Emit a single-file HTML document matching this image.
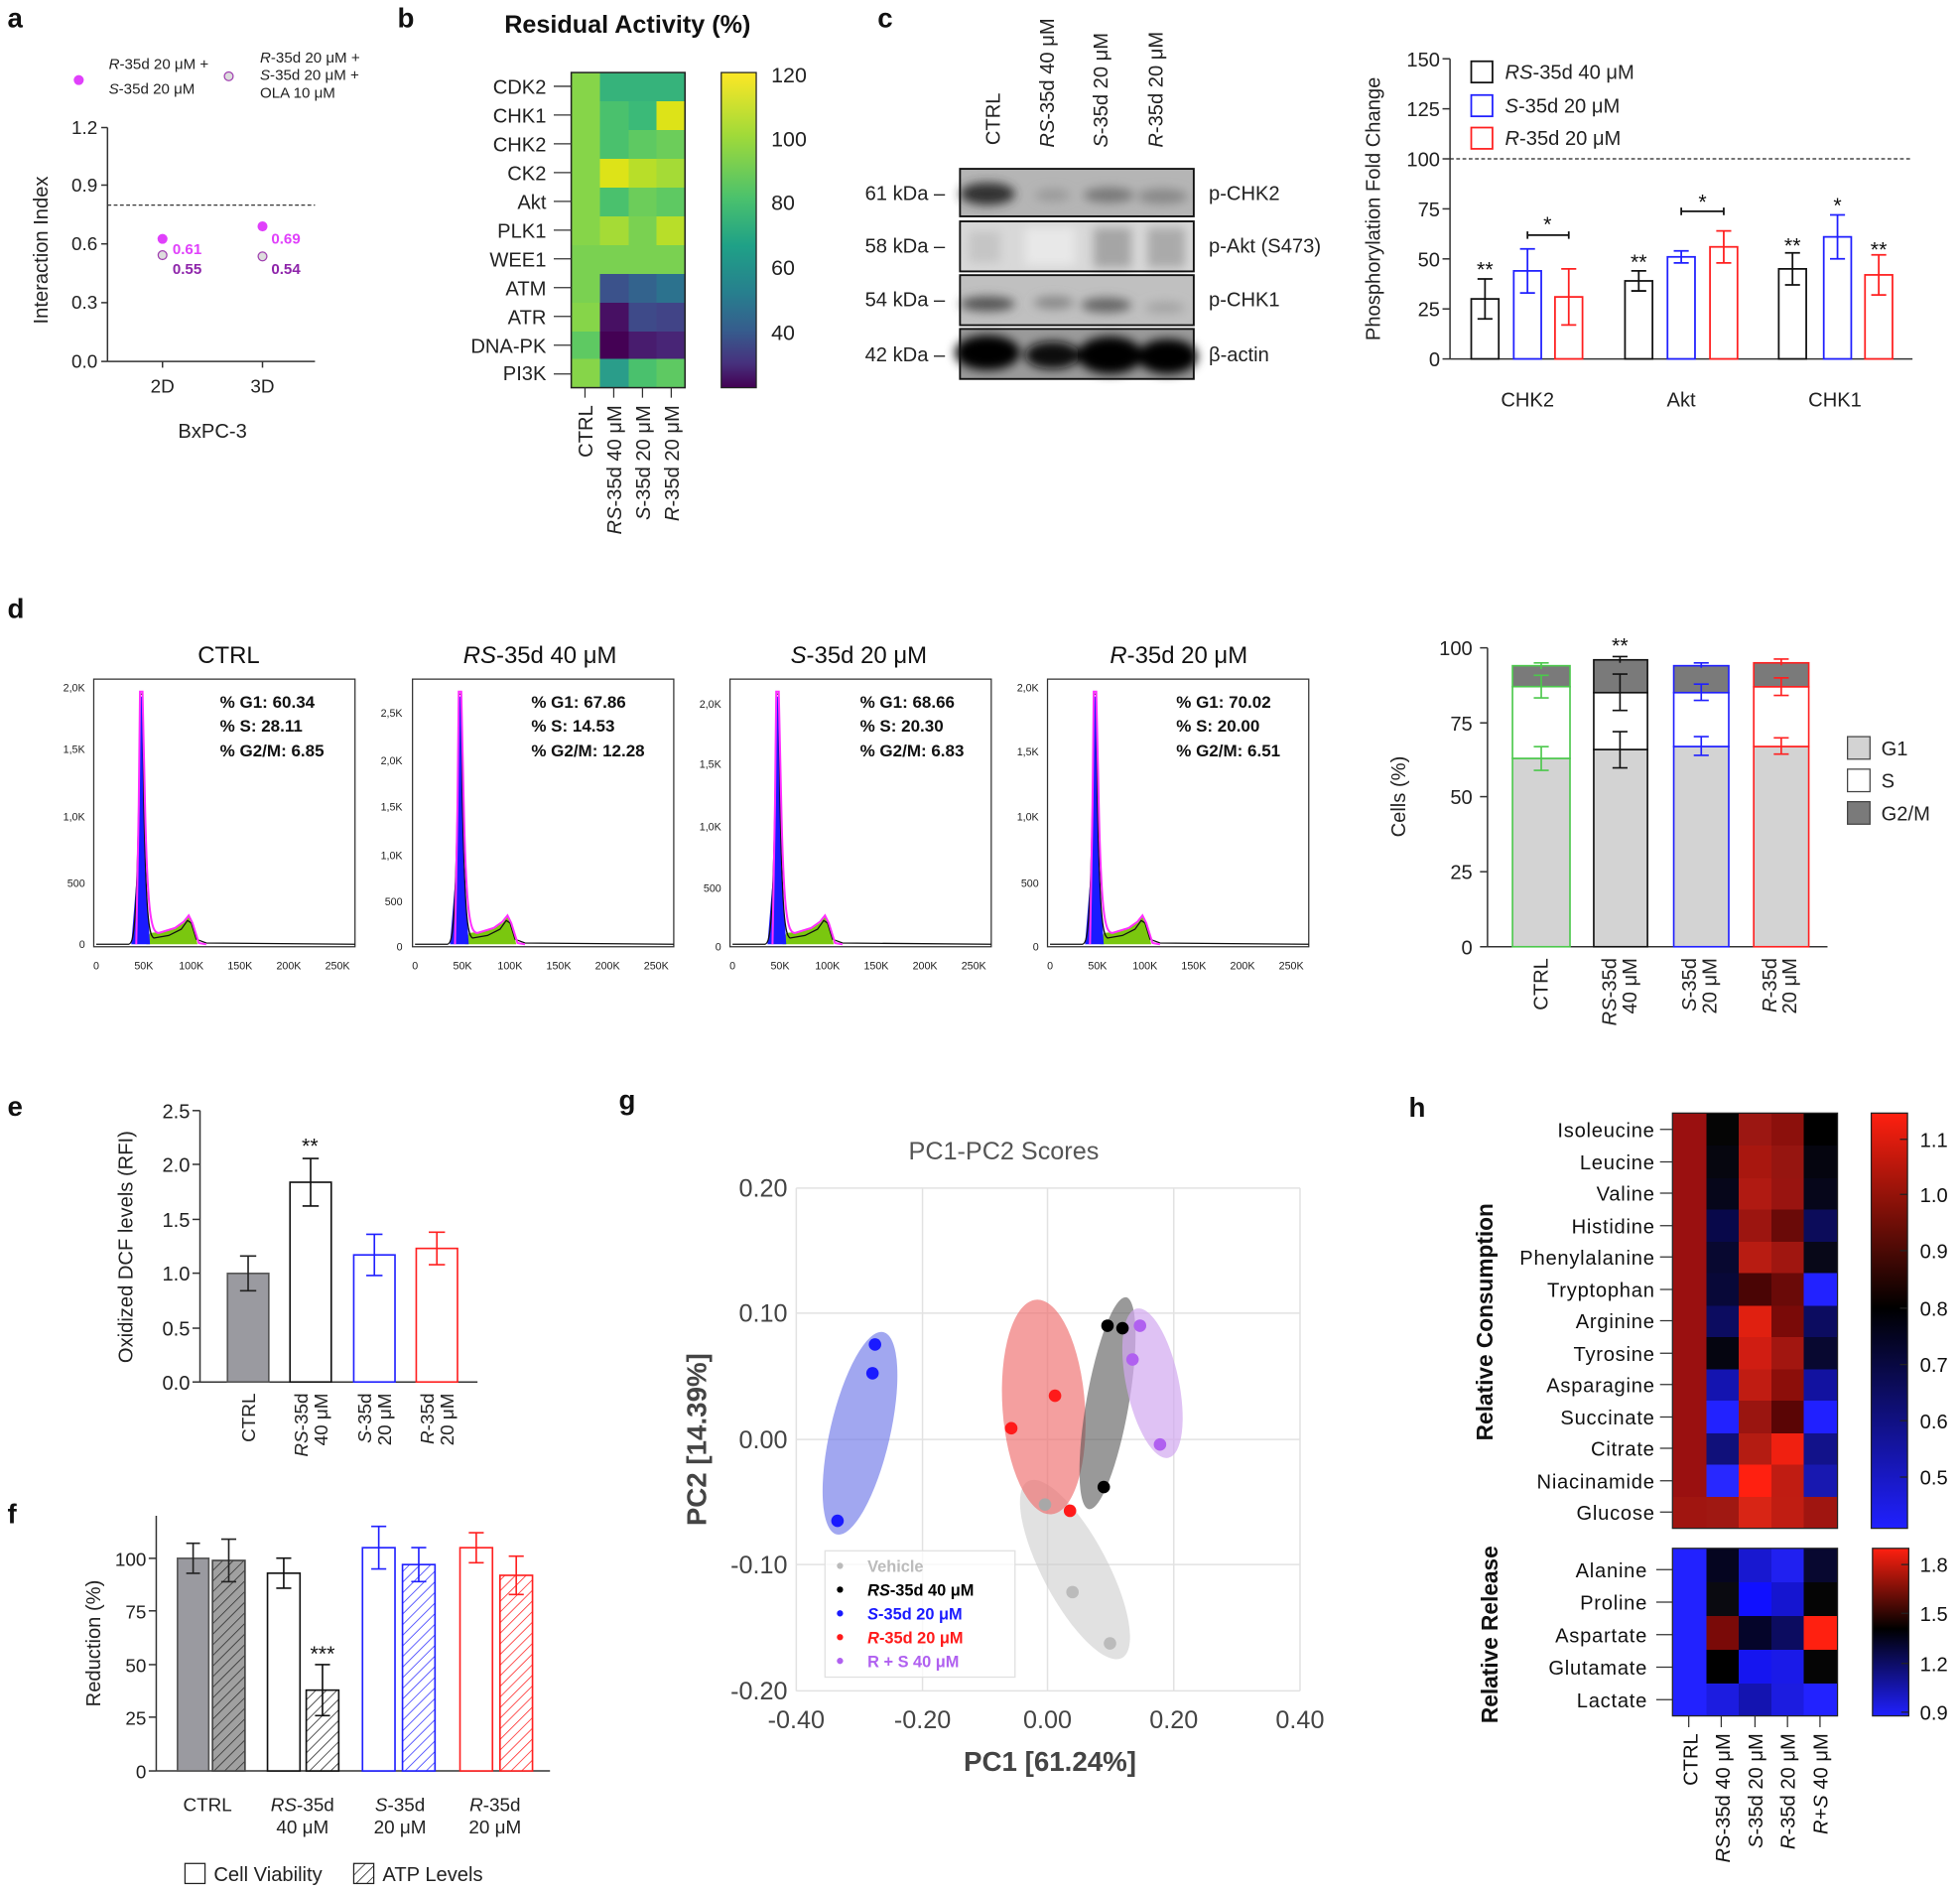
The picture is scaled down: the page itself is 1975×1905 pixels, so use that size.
<!DOCTYPE html>
<html><head><meta charset="utf-8"><style>
html,body{margin:0;padding:0;background:#fff}
svg{display:block}
text{font-family:"Liberation Sans",sans-serif}
.t{font-size:15px;fill:#222}
.s{font-size:11px;fill:#222}
.b{font-weight:bold}
</style></head><body>
<svg width="1975" height="1905" viewBox="0 0 1568 1512" preserveAspectRatio="none" xmlns="http://www.w3.org/2000/svg">
<defs>
<pattern id="hk" width="6" height="6" patternUnits="userSpaceOnUse" patternTransform="rotate(45)"><rect width="6" height="6" fill="#fff"/><line x1="0" y1="0" x2="0" y2="6" stroke="#333" stroke-width="1.3"/></pattern>
<pattern id="hg" width="6" height="6" patternUnits="userSpaceOnUse" patternTransform="rotate(45)"><rect width="6" height="6" fill="#a0a0a0"/><line x1="0" y1="0" x2="0" y2="6" stroke="#333" stroke-width="1.3"/></pattern>
<pattern id="hb" width="6" height="6" patternUnits="userSpaceOnUse" patternTransform="rotate(45)"><rect width="6" height="6" fill="#fff"/><line x1="0" y1="0" x2="0" y2="6" stroke="#4040ff" stroke-width="1.3"/></pattern>
<pattern id="hr" width="6" height="6" patternUnits="userSpaceOnUse" patternTransform="rotate(45)"><rect width="6" height="6" fill="#fff"/><line x1="0" y1="0" x2="0" y2="6" stroke="#ff3030" stroke-width="1.3"/></pattern>
<linearGradient id="vir" x1="0" y1="0" x2="0" y2="1"><stop offset="0" stop-color="#fde725"/><stop offset=".2" stop-color="#a0da39"/><stop offset=".4" stop-color="#4ac16d"/><stop offset=".55" stop-color="#1fa187"/><stop offset=".7" stop-color="#277f8e"/><stop offset=".82" stop-color="#365c8d"/><stop offset=".92" stop-color="#46327e"/><stop offset="1" stop-color="#440154"/></linearGradient>
<linearGradient id="rb1" x1="0" y1="0" x2="0" y2="1"><stop offset="0" stop-color="#ff2010"/><stop offset=".47" stop-color="#000"/><stop offset="1" stop-color="#2020ff"/></linearGradient>
<linearGradient id="rb2" x1="0" y1="0" x2="0" y2="1"><stop offset="0" stop-color="#ff2010"/><stop offset=".48" stop-color="#000"/><stop offset="1" stop-color="#2020ff"/></linearGradient>
<filter id="bl" x="-20%" y="-50%" width="140%" height="200%"><feGaussianBlur stdDeviation="4"/></filter>
<g id="hist">
<rect x="0" y="0" width="209" height="214" fill="none" stroke="#333" stroke-width="1"/>
<path d="M42,212 L45,203 L55,202 L65,199 L72,195 L76,190 L79,196 L83,212 Z" fill="#7ac70f"/>
<path d="M30,212 L35,150 L37,14 L39,14 L41,150 L45,212 Z" fill="#1a1aff"/>
<path d="M2,212 L28,212 C32,211 34,200 36,100 L37,12 L39,12 L40,100 C42,190 44,205 48,207 L60,205 L70,200 L75,193 L78,195 L82,208 L90,211 L209,212" fill="none" stroke="#111" stroke-width="1"/>
<path d="M34,212 L36,100 L37,10 L39,10 L41,100 C43,190 46,203 52,203 L65,199 L72,194 L76,189 L79,195 L84,211 L90,212" fill="none" stroke="#ff30ff" stroke-width="1.6"/>
<g class="s" text-anchor="middle" style="font-size:8.5px">
<text x="2" y="232">0</text><text x="40" y="232">50K</text><text x="78" y="232">100K</text><text x="117" y="232">150K</text><text x="156" y="232">200K</text><text x="195" y="232">250K</text></g>
</g>
</defs>

<g font-weight="bold" font-size="22" fill="#111">
<text x="6" y="22">a</text><text x="318" y="22">b</text><text x="702" y="22">c</text>
<text x="6" y="494">d</text><text x="6" y="892">e</text><text x="6" y="1218">f</text>
<text x="495" y="887">g</text><text x="1127" y="893">h</text></g>

<!-- PANEL A -->
<circle cx="63" cy="64" r="4" fill="#e040fb"/>
<text x="87" y="55" class="s" style="font-size:12px"><tspan font-style="italic">R</tspan>-35d 20 μM +</text>
<text x="87" y="75" class="s" style="font-size:12px"><tspan font-style="italic">S</tspan>-35d 20 μM</text>
<circle cx="183" cy="61" r="3.5" fill="#ddd" stroke="#a040b0"/>
<text x="208" y="50" class="s" style="font-size:12px"><tspan font-style="italic">R</tspan>-35d 20 μM +</text>
<text x="208" y="64" class="s" style="font-size:12px"><tspan font-style="italic">S</tspan>-35d 20 μM +</text>
<text x="208" y="78" class="s" style="font-size:12px">OLA 10 μM</text>
<g stroke="#333" stroke-width="1.2"><line x1="86" y1="102" x2="86" y2="289"/><line x1="86" y1="289" x2="252" y2="289"/>
<line x1="81" y1="102" x2="86" y2="102"/><line x1="81" y1="148" x2="86" y2="148"/><line x1="81" y1="195" x2="86" y2="195"/><line x1="81" y1="242" x2="86" y2="242"/><line x1="81" y1="289" x2="86" y2="289"/>
<line x1="130" y1="289" x2="130" y2="294"/><line x1="210" y1="289" x2="210" y2="294"/></g>
<line x1="86" y1="164" x2="252" y2="164" stroke="#333" stroke-dasharray="3,2"/>
<g class="t" text-anchor="end"><text x="78" y="107">1.2</text><text x="78" y="153">0.9</text><text x="78" y="200">0.6</text><text x="78" y="247">0.3</text><text x="78" y="294">0.0</text></g>
<g class="t" text-anchor="middle"><text x="130" y="314">2D</text><text x="210" y="314">3D</text><text x="170" y="350" style="font-size:16px">BxPC-3</text></g>
<text transform="translate(38,200) rotate(-90)" class="t" text-anchor="middle" style="font-size:16px">Interaction Index</text>
<circle cx="130" cy="191" r="4" fill="#e040fb"/><circle cx="130" cy="204" r="3.5" fill="#ddd" stroke="#a040b0"/>
<circle cx="210" cy="181" r="4" fill="#e040fb"/><circle cx="210" cy="205" r="3.5" fill="#ddd" stroke="#a040b0"/>
<g font-weight="bold" font-size="12"><text x="138" y="203" fill="#e040fb">0.61</text><text x="138" y="219" fill="#8e24aa">0.55</text>
<text x="217" y="195" fill="#e040fb">0.69</text><text x="217" y="219" fill="#8e24aa">0.54</text></g>

<!-- PANEL B -->
<text x="502" y="26" text-anchor="middle" font-weight="bold" font-size="20" fill="#111">Residual Activity (%)</text>
<g>
<rect x="457" y="58" width="91" height="252" fill="#86d549"/>
<g shape-rendering="crispEdges">
<rect x="480" y="58" width="68" height="23" fill="#36b37b"/>
<rect x="480" y="81" width="23" height="23" fill="#4ac16d"/><rect x="503" y="81" width="22" height="23" fill="#3bba78"/><rect x="525" y="81" width="23" height="23" fill="#dde318"/>
<rect x="480" y="104" width="23" height="23" fill="#4ac16d"/><rect x="503" y="104" width="22" height="23" fill="#5ec962"/><rect x="525" y="104" width="23" height="23" fill="#6ccd5a"/>
<rect x="480" y="127" width="23" height="23" fill="#dde318"/><rect x="503" y="127" width="22" height="23" fill="#b8de29"/><rect x="525" y="127" width="23" height="23" fill="#a5db36"/>
<rect x="480" y="150" width="23" height="23" fill="#4ac16d"/><rect x="503" y="150" width="22" height="23" fill="#6ccd5a"/><rect x="525" y="150" width="23" height="23" fill="#5ec962"/>
<rect x="480" y="173" width="23" height="23" fill="#a5db36"/><rect x="503" y="173" width="22" height="23" fill="#7ad151"/><rect x="525" y="173" width="23" height="23" fill="#b8de29"/>
<rect x="457" y="196" width="91" height="23" fill="#7ad151"/>
<rect x="457" y="219" width="23" height="23" fill="#7ad151"/><rect x="480" y="219" width="23" height="23" fill="#3b528b"/><rect x="503" y="219" width="22" height="23" fill="#33638d"/><rect x="525" y="219" width="23" height="23" fill="#2c728e"/>
<rect x="480" y="242" width="23" height="23" fill="#471063"/><rect x="503" y="242" width="22" height="23" fill="#3e4a89"/><rect x="525" y="242" width="23" height="23" fill="#414487"/>
<rect x="457" y="265" width="23" height="22" fill="#5ec962"/><rect x="480" y="265" width="23" height="22" fill="#440154"/><rect x="503" y="265" width="22" height="22" fill="#481c6e"/><rect x="525" y="265" width="23" height="22" fill="#482576"/>
<rect x="480" y="287" width="23" height="23" fill="#2a9d8a"/><rect x="503" y="287" width="22" height="23" fill="#4ac16d"/><rect x="525" y="287" width="23" height="23" fill="#5ec962"/>
</g>
<rect x="457" y="58" width="91" height="252" fill="none" stroke="#222" stroke-width="1.2"/>
</g>
<g class="t" text-anchor="end" style="font-size:16px">
<text x="437" y="75">CDK2</text><text x="437" y="98">CHK1</text><text x="437" y="121">CHK2</text><text x="437" y="144">CK2</text><text x="437" y="167">Akt</text><text x="437" y="190">PLK1</text><text x="437" y="213">WEE1</text><text x="437" y="236">ATM</text><text x="437" y="259">ATR</text><text x="437" y="282">DNA-PK</text><text x="437" y="304">PI3K</text></g>
<g stroke="#333"><line x1="443" y1="69" x2="457" y2="69"/><line x1="443" y1="92" x2="457" y2="92"/><line x1="443" y1="115" x2="457" y2="115"/><line x1="443" y1="138" x2="457" y2="138"/><line x1="443" y1="161" x2="457" y2="161"/><line x1="443" y1="184" x2="457" y2="184"/><line x1="443" y1="207" x2="457" y2="207"/><line x1="443" y1="230" x2="457" y2="230"/><line x1="443" y1="253" x2="457" y2="253"/><line x1="443" y1="276" x2="457" y2="276"/><line x1="443" y1="299" x2="457" y2="299"/>
<line x1="468" y1="310" x2="468" y2="318"/><line x1="491" y1="310" x2="491" y2="318"/><line x1="514" y1="310" x2="514" y2="318"/><line x1="537" y1="310" x2="537" y2="318"/></g>
<g class="t" text-anchor="end" style="font-size:16px">
<text transform="translate(474,324) rotate(-90)">CTRL</text>
<text transform="translate(497,324) rotate(-90)"><tspan font-style="italic">RS</tspan>-35d 40 μM</text>
<text transform="translate(520,324) rotate(-90)"><tspan font-style="italic">S</tspan>-35d 20 μM</text>
<text transform="translate(543,324) rotate(-90)"><tspan font-style="italic">R</tspan>-35d 20 μM</text></g>
<rect x="577" y="58" width="28" height="252" fill="url(#vir)" stroke="#222"/>
<g class="t" style="font-size:17px"><text x="617" y="66">120</text><text x="617" y="117">100</text><text x="617" y="168">80</text><text x="617" y="220">60</text><text x="617" y="272">40</text></g>

<!-- PANEL C blot -->
<g class="t" style="font-size:16px">
<text transform="translate(800,116) rotate(-90)">CTRL</text>
<text transform="translate(843,118) rotate(-90)"><tspan font-style="italic">RS</tspan>-35d 40 μM</text>
<text transform="translate(886,118) rotate(-90)"><tspan font-style="italic">S</tspan>-35d 20 μM</text>
<text transform="translate(930,118) rotate(-90)"><tspan font-style="italic">R</tspan>-35d 20 μM</text></g>
<rect x="768" y="135" width="187" height="38" fill="#b5b5b5"/>
<rect x="768" y="177" width="187" height="40" fill="#d8d8d8"/>
<rect x="768" y="220" width="187" height="40" fill="#c0c0c0"/>
<rect x="768" y="263" width="187" height="40" fill="#9a9a9a"/>
<g filter="url(#bl)">
<ellipse cx="790" cy="155" rx="22" ry="9" fill="#333"/><ellipse cx="842" cy="156" rx="14" ry="5" fill="#9a9a9a"/><ellipse cx="887" cy="156" rx="20" ry="6" fill="#777"/><ellipse cx="930" cy="157" rx="20" ry="6" fill="#888"/>
<rect x="875" y="182" width="30" height="32" fill="#a5a5a5"/><rect x="918" y="182" width="30" height="32" fill="#aaa"/><rect x="775" y="185" width="25" height="25" fill="#c5c5c5"/><rect x="820" y="182" width="40" height="30" fill="#e8e8e8"/>
<ellipse cx="790" cy="243" rx="22" ry="6" fill="#555"/><ellipse cx="843" cy="242" rx="16" ry="5" fill="#888"/><ellipse cx="885" cy="244" rx="20" ry="6" fill="#666"/><ellipse cx="932" cy="246" rx="16" ry="5" fill="#a5a5a5"/>
<ellipse cx="790" cy="282" rx="26" ry="14" fill="#000"/><ellipse cx="842" cy="284" rx="22" ry="11" fill="#111"/><ellipse cx="888" cy="284" rx="26" ry="15" fill="#000"/><ellipse cx="934" cy="285" rx="24" ry="14" fill="#000"/>
</g>
<g fill="none" stroke="#111" stroke-width="1.5"><rect x="768" y="135" width="187" height="38"/><rect x="768" y="177" width="187" height="40"/><rect x="768" y="220" width="187" height="40"/><rect x="768" y="263" width="187" height="40"/></g>
<g class="t" text-anchor="end" style="font-size:16px"><text x="756" y="160">61 kDa –</text><text x="756" y="202">58 kDa –</text><text x="756" y="245">54 kDa –</text><text x="756" y="289">42 kDa –</text></g>
<g class="t" style="font-size:16px"><text x="967" y="160">p-CHK2</text><text x="967" y="202">p-Akt (S473)</text><text x="967" y="245">p-CHK1</text><text x="967" y="289">β-actin</text></g>

<!-- PANEL C bar -->
<g stroke="#333" stroke-width="1.2"><line x1="1160" y1="47" x2="1160" y2="287"/><line x1="1160" y1="287" x2="1530" y2="287"/>
<line x1="1154" y1="47" x2="1160" y2="47"/><line x1="1154" y1="87" x2="1160" y2="87"/><line x1="1154" y1="127" x2="1160" y2="127"/><line x1="1154" y1="167" x2="1160" y2="167"/><line x1="1154" y1="207" x2="1160" y2="207"/><line x1="1154" y1="247" x2="1160" y2="247"/><line x1="1154" y1="287" x2="1160" y2="287"/></g>
<line x1="1160" y1="127" x2="1530" y2="127" stroke="#222" stroke-dasharray="3,2"/>
<g class="t" text-anchor="end" style="font-size:16px"><text x="1152" y="53">150</text><text x="1152" y="93">125</text><text x="1152" y="133">100</text><text x="1152" y="173">75</text><text x="1152" y="213">50</text><text x="1152" y="253">25</text><text x="1152" y="293">0</text></g>
<text transform="translate(1104,167) rotate(-90)" class="t" text-anchor="middle" style="font-size:16px">Phosphorylation Fold Change</text>
<g fill="none" stroke-width="1.4">
<g stroke="#111"><rect x="1177" y="239" width="22" height="48"/><path d="M1188,223V255M1182,223H1194M1182,255H1194"/>
<rect x="1300" y="224.6" width="22" height="62.4"/><path d="M1311,216.6V232.6M1305,216.6H1317M1305,232.6H1317"/>
<rect x="1423" y="215" width="22" height="72"/><path d="M1434,202.2V227.8M1428,202.2H1440M1428,227.8H1440"/></g>
<g stroke="#2020ff"><rect x="1211" y="216.6" width="22" height="70.4"/><path d="M1222,199V234.2M1216,199H1228M1216,234.2H1228"/>
<rect x="1334" y="205.4" width="22" height="81.6"/><path d="M1345,200.6V210.2M1339,200.6H1351M1339,210.2H1351"/>
<rect x="1459" y="189.4" width="22" height="97.6"/><path d="M1470,171.8V207M1464,171.8H1476M1464,207H1476"/></g>
<g stroke="#ff2020"><rect x="1244" y="237.4" width="22" height="49.6"/><path d="M1255,215V259.8M1249,215H1261M1249,259.8H1261"/>
<rect x="1368" y="197.4" width="22" height="89.6"/><path d="M1379,184.6V210.2M1373,184.6H1385M1373,210.2H1385"/>
<rect x="1492" y="219.8" width="22" height="67.2"/><path d="M1503,203.8V235.8M1497,203.8H1509M1497,235.8H1509"/></g>
<path d="M1222,185V191M1222,188H1255M1255,185V191M1345,166V172M1345,169H1379M1379,166V172" stroke="#111"/>
</g>
<g font-size="17" fill="#111" text-anchor="middle"><text x="1188" y="221">**</text><text x="1311" y="215">**</text><text x="1434" y="202">**</text><text x="1238" y="185">*</text><text x="1362" y="167">*</text><text x="1470" y="170">*</text><text x="1503" y="205">**</text></g>
<g fill="#fff" stroke-width="1.4"><rect x="1177" y="49" width="17" height="17" stroke="#111"/><rect x="1177" y="76" width="17" height="17" stroke="#2020ff"/><rect x="1177" y="102" width="17" height="17" stroke="#ff2020"/></g>
<g class="t" style="font-size:16px"><text x="1204" y="63"><tspan font-style="italic">RS</tspan>-35d 40 μM</text><text x="1204" y="90"><tspan font-style="italic">S</tspan>-35d 20 μM</text><text x="1204" y="116"><tspan font-style="italic">R</tspan>-35d 20 μM</text></g>
<g class="t" text-anchor="middle" style="font-size:16px"><text x="1222" y="325">CHK2</text><text x="1345" y="325">Akt</text><text x="1468" y="325">CHK1</text></g>

<!-- PANEL D histograms -->
<g font-size="19" fill="#111" text-anchor="middle"><text x="183" y="530">CTRL</text><text x="432" y="530"><tspan font-style="italic">RS</tspan>-35d 40 μM</text><text x="687" y="530"><tspan font-style="italic">S</tspan>-35d 20 μM</text><text x="943" y="530"><tspan font-style="italic">R</tspan>-35d 20 μM</text></g>
<use href="#hist" x="75" y="543"/><use href="#hist" x="330" y="543"/><use href="#hist" x="584" y="543"/><use href="#hist" x="838" y="543"/>
<g font-size="8.5" fill="#222" text-anchor="end">
<text x="68" y="553">2,0K</text><text x="68" y="602">1,5K</text><text x="68" y="656">1,0K</text><text x="68" y="709">500</text><text x="68" y="758">0</text>
<text x="322" y="573">2,5K</text><text x="322" y="611">2,0K</text><text x="322" y="648">1,5K</text><text x="322" y="687">1,0K</text><text x="322" y="724">500</text><text x="322" y="760">0</text>
<text x="577" y="566">2,0K</text><text x="577" y="614">1,5K</text><text x="577" y="664">1,0K</text><text x="577" y="713">500</text><text x="577" y="760">0</text>
<text x="831" y="553">2,0K</text><text x="831" y="604">1,5K</text><text x="831" y="656">1,0K</text><text x="831" y="709">500</text><text x="831" y="760">0</text></g>
<g font-size="13.5" font-weight="bold" fill="#111">
<text x="176" y="566">% G1: 60.34</text><text x="176" y="585">% S: 28.11</text><text x="176" y="605">% G2/M: 6.85</text>
<text x="425" y="566">% G1: 67.86</text><text x="425" y="585">% S: 14.53</text><text x="425" y="605">% G2/M: 12.28</text>
<text x="688" y="566">% G1: 68.66</text><text x="688" y="585">% S: 20.30</text><text x="688" y="605">% G2/M: 6.83</text>
<text x="941" y="566">% G1: 70.02</text><text x="941" y="585">% S: 20.00</text><text x="941" y="605">% G2/M: 6.51</text></g>

<!-- PANEL D stacked -->
<g stroke="#333" stroke-width="1.2"><line x1="1190" y1="518" x2="1190" y2="757"/><line x1="1190" y1="757" x2="1462" y2="757"/>
<line x1="1184" y1="518" x2="1190" y2="518"/><line x1="1184" y1="578" x2="1190" y2="578"/><line x1="1184" y1="637" x2="1190" y2="637"/><line x1="1184" y1="697" x2="1190" y2="697"/><line x1="1184" y1="757" x2="1190" y2="757"/></g>
<g class="t" text-anchor="end" style="font-size:16px"><text x="1178" y="524">100</text><text x="1178" y="584">75</text><text x="1178" y="643">50</text><text x="1178" y="703">25</text><text x="1178" y="763">0</text></g>
<text transform="translate(1124,637) rotate(-90)" class="t" text-anchor="middle" style="font-size:16px">Cells (%)</text>
<g stroke-width="1.3">
<g stroke="#4cc84c"><rect x="1210" y="606.4" width="46" height="150.6" fill="#d3d3d3"/><rect x="1210" y="549" width="46" height="57.4" fill="#fff"/><rect x="1210" y="532.3" width="46" height="16.7" fill="#7a7a7a"/>
<path d="M1233,597V616M1227,597H1239M1227,616H1239M1233,540V558M1227,540H1239M1227,558H1239M1233,530V535M1227,530H1239" fill="none"/></g>
<g stroke="#111"><rect x="1275" y="599.3" width="43" height="157.7" fill="#d3d3d3"/><rect x="1275" y="553.8" width="43" height="45.5" fill="#fff"/><rect x="1275" y="527.6" width="43" height="26.2" fill="#7a7a7a"/>
<path d="M1296,585V614M1290,585H1302M1290,614H1302M1296,539V568M1290,539H1302M1290,568H1302M1296,525V530M1290,525H1302" fill="none"/></g>
<g stroke="#2020ff"><rect x="1339" y="596.9" width="44" height="160.1" fill="#d3d3d3"/><rect x="1339" y="553.8" width="44" height="43.1" fill="#fff"/><rect x="1339" y="532.3" width="44" height="21.5" fill="#7a7a7a"/>
<path d="M1361,589V604M1355,589H1367M1355,604H1367M1361,547V560M1355,547H1367M1355,560H1367M1361,530V534M1355,530H1367" fill="none"/></g>
<g stroke="#ff2020"><rect x="1403" y="596.9" width="44" height="160.1" fill="#d3d3d3"/><rect x="1403" y="549.1" width="44" height="47.8" fill="#fff"/><rect x="1403" y="530" width="44" height="19.1" fill="#7a7a7a"/>
<path d="M1425,590V603M1419,590H1431M1419,603H1431M1425,542V556M1419,542H1431M1419,556H1431M1425,527V532M1419,527H1431" fill="none"/></g>
</g>
<text x="1296" y="522" font-size="17" text-anchor="middle" fill="#111">**</text>
<g stroke="#444"><rect x="1478" y="589" width="18" height="18" fill="#d3d3d3"/><rect x="1478" y="615" width="18" height="18" fill="#fff"/><rect x="1478" y="641" width="18" height="18" fill="#7a7a7a"/></g>
<g class="t" style="font-size:16px"><text x="1505" y="604">G1</text><text x="1505" y="630">S</text><text x="1505" y="656">G2/M</text></g>
<g class="t" text-anchor="end" style="font-size:16px">
<text transform="translate(1238,766) rotate(-90)">CTRL</text>
<text transform="translate(1293,766) rotate(-90)"><tspan font-style="italic">RS</tspan>-35d</text><text transform="translate(1309,766) rotate(-90)">40 μM</text>
<text transform="translate(1357,766) rotate(-90)"><tspan font-style="italic">S</tspan>-35d</text><text transform="translate(1373,766) rotate(-90)">20 μM</text>
<text transform="translate(1421,766) rotate(-90)"><tspan font-style="italic">R</tspan>-35d</text><text transform="translate(1437,766) rotate(-90)">20 μM</text></g>

<!-- PANEL E -->
<g stroke="#333" stroke-width="1.2"><line x1="160" y1="888" x2="160" y2="1105"/><line x1="160" y1="1105" x2="382" y2="1105"/>
<line x1="154" y1="888" x2="160" y2="888"/><line x1="154" y1="931" x2="160" y2="931"/><line x1="154" y1="975" x2="160" y2="975"/><line x1="154" y1="1018" x2="160" y2="1018"/><line x1="154" y1="1062" x2="160" y2="1062"/><line x1="154" y1="1105" x2="160" y2="1105"/></g>
<g class="t" text-anchor="end" style="font-size:16px"><text x="152" y="894">2.5</text><text x="152" y="937">2.0</text><text x="152" y="981">1.5</text><text x="152" y="1024">1.0</text><text x="152" y="1068">0.5</text><text x="152" y="1111">0.0</text></g>
<text transform="translate(106,997) rotate(-90)" class="t" text-anchor="middle" style="font-size:16px">Oxidized DCF levels (RFI)</text>
<g stroke-width="1.3">
<rect x="182" y="1018.2" width="33" height="86.8" fill="#9a9aa0" stroke="#555"/><path d="M198.5,1004.3V1032.1M192,1004.3H205M192,1032.1H205" stroke="#222" fill="none"/>
<rect x="232" y="945.3" width="33" height="159.7" fill="#fff" stroke="#111"/><path d="M248.5,926.3V964.3M242,926.3H255M242,964.3H255" stroke="#111" fill="none"/>
<rect x="283" y="1003.4" width="33" height="101.6" fill="#fff" stroke="#2020ff"/><path d="M299.5,986.9V1019.9M293,986.9H306M293,1019.9H306" stroke="#2020ff" fill="none"/>
<rect x="333" y="998.2" width="33" height="106.8" fill="#fff" stroke="#ff2020"/><path d="M349.5,985.2V1011.2M343,985.2H356M343,1011.2H356" stroke="#ff2020" fill="none"/></g>
<text x="248" y="922" font-size="17" text-anchor="middle" fill="#111">**</text>
<g class="t" text-anchor="end" style="font-size:15px">
<text transform="translate(204,1114) rotate(-90)">CTRL</text>
<text transform="translate(246,1114) rotate(-90)"><tspan font-style="italic">RS</tspan>-35d</text><text transform="translate(262,1114) rotate(-90)">40 μM</text>
<text transform="translate(297,1114) rotate(-90)"><tspan font-style="italic">S</tspan>-35d</text><text transform="translate(313,1114) rotate(-90)">20 μM</text>
<text transform="translate(347,1114) rotate(-90)"><tspan font-style="italic">R</tspan>-35d</text><text transform="translate(363,1114) rotate(-90)">20 μM</text></g>

<!-- PANEL F -->
<g stroke="#333" stroke-width="1.2"><line x1="125" y1="1212" x2="125" y2="1416"/><line x1="125" y1="1416" x2="440" y2="1416"/>
<line x1="119" y1="1246" x2="125" y2="1246"/><line x1="119" y1="1288" x2="125" y2="1288"/><line x1="119" y1="1331" x2="125" y2="1331"/><line x1="119" y1="1373" x2="125" y2="1373"/><line x1="119" y1="1416" x2="125" y2="1416"/></g>
<g class="t" text-anchor="end" style="font-size:15px"><text x="117" y="1252">100</text><text x="117" y="1294">75</text><text x="117" y="1337">50</text><text x="117" y="1379">25</text><text x="117" y="1422">0</text></g>
<text transform="translate(80,1314) rotate(-90)" class="t" text-anchor="middle" style="font-size:16px">Reduction (%)</text>
<g stroke-width="1.3" fill="none">
<rect x="142" y="1246" width="25" height="170" fill="#9a9aa0" stroke="#555"/><path d="M154.5,1234V1258M149,1234H160M149,1258H160" stroke="#222"/>
<rect x="170" y="1247.7" width="26" height="168.3" fill="url(#hg)" stroke="#444"/><path d="M183,1230.7V1264.7M177,1230.7H189M177,1264.7H189" stroke="#222"/>
<rect x="214" y="1257.9" width="26" height="158.1" fill="#fff" stroke="#111"/><path d="M227,1245.9V1269.9M221,1245.9H233M221,1269.9H233" stroke="#111"/>
<rect x="245" y="1351.4" width="26" height="64.6" fill="url(#hk)" stroke="#111"/><path d="M258,1331V1371.8M252,1331H264M252,1371.8H264" stroke="#111"/>
<rect x="290" y="1237.5" width="26" height="178.5" fill="#fff" stroke="#2020ff"/><path d="M303,1220.5V1254.5M297,1220.5H309M297,1254.5H309" stroke="#2020ff"/>
<rect x="322" y="1251" width="26" height="165" fill="url(#hb)" stroke="#2020ff"/><path d="M335,1237.4V1264.6M329,1237.4H341M329,1264.6H341" stroke="#2020ff"/>
<rect x="368" y="1237.5" width="26" height="178.5" fill="#fff" stroke="#ff2020"/><path d="M381,1225.5V1249.5M375,1225.5H387M375,1249.5H387" stroke="#ff2020"/>
<rect x="400" y="1259.6" width="26" height="156.4" fill="url(#hr)" stroke="#ff2020"/><path d="M413,1244.3V1274.9M407,1244.3H419M407,1274.9H419" stroke="#ff2020"/></g>
<text x="258" y="1328" font-size="17" text-anchor="middle" fill="#111">***</text>
<g class="t" text-anchor="middle" style="font-size:15px"><text x="166" y="1448">CTRL</text>
<text x="242" y="1448"><tspan font-style="italic">RS</tspan>-35d</text><text x="242" y="1466">40 μM</text>
<text x="320" y="1448"><tspan font-style="italic">S</tspan>-35d</text><text x="320" y="1466">20 μM</text>
<text x="396" y="1448"><tspan font-style="italic">R</tspan>-35d</text><text x="396" y="1466">20 μM</text></g>
<rect x="148" y="1490" width="16" height="16" fill="#fff" stroke="#222"/><rect x="283" y="1490" width="16" height="16" fill="url(#hk)" stroke="#222"/>
<g class="t" style="font-size:16px"><text x="171" y="1504">Cell Viability</text><text x="306" y="1504">ATP Levels</text></g>

<!-- PANEL G -->
<text x="803" y="927" text-anchor="middle" font-size="20" fill="#555">PC1-PC2 Scores</text>
<g stroke="#e2e2e2" stroke-width="1.2">
<line x1="637" y1="950" x2="1040" y2="950"/><line x1="637" y1="1050" x2="1040" y2="1050"/><line x1="637" y1="1151" x2="1040" y2="1151"/><line x1="637" y1="1251" x2="1040" y2="1251"/><line x1="637" y1="1352" x2="1040" y2="1352"/>
<line x1="637" y1="950" x2="637" y2="1352"/><line x1="738" y1="950" x2="738" y2="1352"/><line x1="838" y1="950" x2="838" y2="1352"/><line x1="939" y1="950" x2="939" y2="1352"/><line x1="1040" y1="950" x2="1040" y2="1352"/></g>
<g font-size="20" fill="#444" text-anchor="end"><text x="630" y="957">0.20</text><text x="630" y="1057">0.10</text><text x="630" y="1158">0.00</text><text x="630" y="1258">-0.10</text><text x="630" y="1359">-0.20</text></g>
<g font-size="20" fill="#444" text-anchor="middle"><text x="637" y="1382">-0.40</text><text x="738" y="1382">-0.20</text><text x="838" y="1382">0.00</text><text x="939" y="1382">0.20</text><text x="1040" y="1382">0.40</text></g>
<text x="840" y="1416" text-anchor="middle" font-size="22" font-weight="bold" fill="#444">PC1 [61.24%]</text>
<text transform="translate(565,1151) rotate(-90)" text-anchor="middle" font-size="22" font-weight="bold" fill="#444">PC2 [14.39%]</text>
<ellipse cx="688" cy="1146" rx="24" ry="83" transform="rotate(13 688 1146)" fill="#6f78e8" opacity=".65"/>
<ellipse cx="860" cy="1255" rx="26" ry="80" transform="rotate(-28 860 1255)" fill="#c8c8c8" opacity=".55"/>
<ellipse cx="835" cy="1125" rx="33" ry="86" transform="rotate(-4 835 1125)" fill="#ee6b6b" opacity=".65"/>
<ellipse cx="886" cy="1122" rx="17" ry="86" transform="rotate(10 886 1122)" fill="#555" opacity=".6"/>
<ellipse cx="922" cy="1106" rx="21" ry="61" transform="rotate(-12 922 1106)" fill="#d2a8f0" opacity=".7"/>
<g><circle cx="700" cy="1075" r="5" fill="#1a1aff"/><circle cx="698" cy="1098" r="5" fill="#1a1aff"/><circle cx="670" cy="1216" r="5" fill="#1a1aff"/>
<circle cx="886" cy="1060" r="5" fill="#000"/><circle cx="898" cy="1062" r="5" fill="#000"/><circle cx="883" cy="1189" r="5" fill="#000"/>
<circle cx="912" cy="1060" r="5" fill="#b060f0"/><circle cx="906" cy="1087" r="5" fill="#b060f0"/><circle cx="928" cy="1155" r="5" fill="#b060f0"/>
<circle cx="844" cy="1116" r="5" fill="#ff1a1a"/><circle cx="809" cy="1142" r="5" fill="#ff1a1a"/><circle cx="856" cy="1208" r="5" fill="#ff1a1a"/>
<circle cx="836" cy="1203" r="5" fill="#a8a8a8"/><circle cx="858" cy="1273" r="5" fill="#bbb"/><circle cx="888" cy="1314" r="5" fill="#bbb"/></g>
<rect x="660" y="1240" width="152" height="101" fill="#fff" fill-opacity=".75" stroke="#e0e0e0"/>
<g font-size="13" font-weight="bold"><circle cx="672" cy="1252" r="2.5" fill="#bbb"/><text x="694" y="1257" fill="#bbb">Vehicle</text>
<circle cx="672" cy="1271" r="2.5" fill="#000"/><text x="694" y="1276" fill="#000"><tspan font-style="italic">RS</tspan>-35d 40 μM</text>
<circle cx="672" cy="1290" r="2.5" fill="#1a1aff"/><text x="694" y="1295" fill="#1a1aff"><tspan font-style="italic">S</tspan>-35d 20 μM</text>
<circle cx="672" cy="1309" r="2.5" fill="#ff1a1a"/><text x="694" y="1314" fill="#ff1a1a"><tspan font-style="italic">R</tspan>-35d 20 μM</text>
<circle cx="672" cy="1328" r="2.5" fill="#b060f0"/><text x="694" y="1333" fill="#b060f0">R + S 40 μM</text></g>

<!-- PANEL H -->
<g shape-rendering="crispEdges">
<rect x="1338" y="890" width="27" height="332" fill="#9a1010"/>
<rect x="1365" y="890" width="26" height="26" fill="#050505"/><rect x="1391" y="890" width="26" height="26" fill="#9c1712"/><rect x="1417" y="890" width="26" height="26" fill="#8c100c"/><rect x="1443" y="890" width="27" height="26" fill="#000"/>
<rect x="1365" y="916" width="26" height="26" fill="#06060f"/><rect x="1391" y="916" width="26" height="26" fill="#a8170f"/><rect x="1417" y="916" width="26" height="26" fill="#961510"/><rect x="1443" y="916" width="27" height="26" fill="#05050f"/>
<rect x="1365" y="942" width="26" height="25" fill="#06061a"/><rect x="1391" y="942" width="26" height="25" fill="#b01a12"/><rect x="1417" y="942" width="26" height="25" fill="#991410"/><rect x="1443" y="942" width="27" height="25" fill="#06061a"/>
<rect x="1365" y="967" width="26" height="26" fill="#08084a"/><rect x="1391" y="967" width="26" height="26" fill="#9c1510"/><rect x="1417" y="967" width="26" height="26" fill="#6a0a08"/><rect x="1443" y="967" width="27" height="26" fill="#0c0c5a"/>
<rect x="1365" y="993" width="26" height="25" fill="#080830"/><rect x="1391" y="993" width="26" height="25" fill="#b81c12"/><rect x="1417" y="993" width="26" height="25" fill="#a01610"/><rect x="1443" y="993" width="27" height="25" fill="#080818"/>
<rect x="1365" y="1018" width="26" height="26" fill="#080838"/><rect x="1391" y="1018" width="26" height="26" fill="#4a0505"/><rect x="1417" y="1018" width="26" height="26" fill="#6a0a08"/><rect x="1443" y="1018" width="27" height="26" fill="#2222ff"/>
<rect x="1365" y="1044" width="26" height="25" fill="#0c0c60"/><rect x="1391" y="1044" width="26" height="25" fill="#e02010"/><rect x="1417" y="1044" width="26" height="25" fill="#7a0a08"/><rect x="1443" y="1044" width="27" height="25" fill="#0c0c60"/>
<rect x="1365" y="1069" width="26" height="26" fill="#050510"/><rect x="1391" y="1069" width="26" height="26" fill="#d01d12"/><rect x="1417" y="1069" width="26" height="26" fill="#a21610"/><rect x="1443" y="1069" width="27" height="26" fill="#080830"/>
<rect x="1365" y="1095" width="26" height="25" fill="#1414b0"/><rect x="1391" y="1095" width="26" height="25" fill="#c01c12"/><rect x="1417" y="1095" width="26" height="25" fill="#8c0e0a"/><rect x="1443" y="1095" width="27" height="25" fill="#1212a0"/>
<rect x="1365" y="1120" width="26" height="26" fill="#2222ff"/><rect x="1391" y="1120" width="26" height="26" fill="#9a1510"/><rect x="1417" y="1120" width="26" height="26" fill="#5a0505"/><rect x="1443" y="1120" width="27" height="26" fill="#2020ff"/>
<rect x="1365" y="1146" width="26" height="25" fill="#10107a"/><rect x="1391" y="1146" width="26" height="25" fill="#b41c12"/><rect x="1417" y="1146" width="26" height="25" fill="#f02010"/><rect x="1443" y="1146" width="27" height="25" fill="#12128a"/>
<rect x="1365" y="1171" width="26" height="26" fill="#2828ff"/><rect x="1391" y="1171" width="26" height="26" fill="#ff2010"/><rect x="1417" y="1171" width="26" height="26" fill="#c01c12"/><rect x="1443" y="1171" width="27" height="26" fill="#1818b0"/>
<rect x="1338" y="1197" width="27" height="25" fill="#a01510"/><rect x="1365" y="1197" width="26" height="25" fill="#a01812"/><rect x="1391" y="1197" width="26" height="25" fill="#d82515"/><rect x="1417" y="1197" width="26" height="25" fill="#c01d12"/><rect x="1443" y="1197" width="27" height="25" fill="#a01510"/>
<rect x="1338" y="1238" width="132" height="134" fill="#2222ff"/>
<rect x="1365" y="1238" width="26" height="27" fill="#050520"/><rect x="1391" y="1238" width="26" height="27" fill="#1818d0"/><rect x="1417" y="1238" width="26" height="27" fill="#2020f0"/><rect x="1443" y="1238" width="27" height="27" fill="#080830"/>
<rect x="1365" y="1265" width="26" height="27" fill="#0a0a10"/><rect x="1391" y="1265" width="26" height="27" fill="#1010ff"/><rect x="1417" y="1265" width="26" height="27" fill="#1515d0"/><rect x="1443" y="1265" width="27" height="27" fill="#050505"/>
<rect x="1365" y="1292" width="26" height="27" fill="#7a0a08"/><rect x="1391" y="1292" width="26" height="27" fill="#05052a"/><rect x="1417" y="1292" width="26" height="27" fill="#0c0c60"/><rect x="1443" y="1292" width="27" height="27" fill="#ff2010"/>
<rect x="1365" y="1319" width="26" height="27" fill="#000"/><rect x="1391" y="1319" width="26" height="27" fill="#1515f0"/><rect x="1417" y="1319" width="26" height="27" fill="#1a1ae8"/><rect x="1443" y="1319" width="27" height="27" fill="#050505"/>
<rect x="1365" y="1346" width="26" height="26" fill="#1c1ce0"/><rect x="1391" y="1346" width="26" height="26" fill="#1414b0"/><rect x="1417" y="1346" width="26" height="26" fill="#1c1ce0"/><rect x="1443" y="1346" width="27" height="26" fill="#2222ff"/>
</g>
<rect x="1338" y="890" width="132" height="332" fill="none" stroke="#222"/><rect x="1338" y="1238" width="132" height="134" fill="none" stroke="#222"/>
<g font-size="16" fill="#111" text-anchor="end" letter-spacing=".6">
<text x="1324" y="909">Isoleucine</text><text x="1324" y="935">Leucine</text><text x="1324" y="960">Valine</text><text x="1324" y="986">Histidine</text><text x="1324" y="1011">Phenylalanine</text><text x="1324" y="1037">Tryptophan</text><text x="1324" y="1062">Arginine</text><text x="1324" y="1088">Tyrosine</text><text x="1324" y="1113">Asparagine</text><text x="1324" y="1139">Succinate</text><text x="1324" y="1164">Citrate</text><text x="1324" y="1190">Niacinamide</text><text x="1324" y="1215">Glucose</text>
<text x="1318" y="1261">Alanine</text><text x="1318" y="1287">Proline</text><text x="1318" y="1313">Aspartate</text><text x="1318" y="1339">Glutamate</text><text x="1318" y="1365">Lactate</text></g>
<g stroke="#333"><path d="M1328,903H1338M1328,929H1338M1328,954H1338M1328,980H1338M1328,1005H1338M1328,1031H1338M1328,1056H1338M1328,1082H1338M1328,1107H1338M1328,1133H1338M1328,1158H1338M1328,1184H1338M1328,1209H1338M1325,1255H1338M1325,1281H1338M1325,1307H1338M1325,1333H1338M1325,1359H1338M1351,1372V1381M1377,1372V1381M1404,1372V1381M1430,1372V1381M1456,1372V1381"/></g>
<g font-size="16" fill="#111" text-anchor="end">
<text transform="translate(1358,1386) rotate(-90)">CTRL</text>
<text transform="translate(1384,1386) rotate(-90)"><tspan font-style="italic">RS</tspan>-35d 40 μM</text>
<text transform="translate(1410,1386) rotate(-90)"><tspan font-style="italic">S</tspan>-35d 20 μM</text>
<text transform="translate(1436,1386) rotate(-90)"><tspan font-style="italic">R</tspan>-35d 20 μM</text>
<text transform="translate(1462,1386) rotate(-90)"><tspan font-style="italic">R+S</tspan> 40 μM</text></g>
<text transform="translate(1194,1057) rotate(-90)" text-anchor="middle" font-size="18" font-weight="bold" fill="#111">Relative Consumption</text>
<text transform="translate(1198,1307) rotate(-90)" text-anchor="middle" font-size="18" font-weight="bold" fill="#111">Relative Release</text>
<rect x="1497" y="890" width="29" height="332" fill="url(#rb1)" stroke="#222"/>
<rect x="1498" y="1238" width="29" height="134" fill="url(#rb2)" stroke="#222"/>
<g stroke="#222"><path d="M1520,911H1526M1520,955H1526M1520,1000H1526M1520,1046H1526M1520,1091H1526M1520,1136H1526M1520,1181H1526M1521,1251H1527M1521,1290H1527M1521,1330H1527M1521,1369H1527"/></g>
<g font-size="16" fill="#111"><text x="1536" y="917">1.1</text><text x="1536" y="961">1.0</text><text x="1536" y="1006">0.9</text><text x="1536" y="1052">0.8</text><text x="1536" y="1097">0.7</text><text x="1536" y="1142">0.6</text><text x="1536" y="1187">0.5</text>
<text x="1536" y="1257">1.8</text><text x="1536" y="1296">1.5</text><text x="1536" y="1336">1.2</text><text x="1536" y="1375">0.9</text></g>
</svg>
</body></html>
